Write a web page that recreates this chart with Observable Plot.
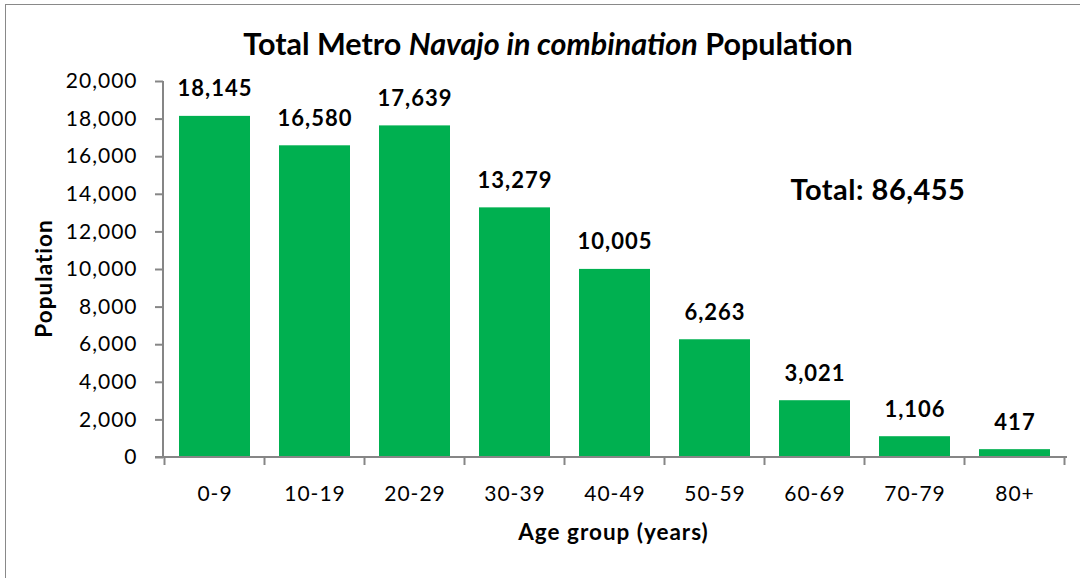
<!DOCTYPE html>
<html>
<head>
<meta charset="utf-8">
<script src="https://cdn.jsdelivr.net/npm/d3@7"></script>
<script src="https://cdn.jsdelivr.net/npm/@observablehq/plot@0.6"></script>
<style>
  html, body { margin: 0; padding: 0; background: #fff; }
  #wrap { position: relative; width: 1089px; height: 578px; overflow: hidden; font-family: Lato, "Open Sans", sans-serif; }
  #frame { position: absolute; left: 5px; top: 4px; width: 1075px; height: 620px; border-left: 1.5px solid #898989; border-top: 1.5px solid #898989; box-sizing: border-box; }
  #title { position: absolute; left: 548px; top: 24.5px; transform: translateX(-50%); white-space: nowrap; font-size: 30.5px; font-weight: bold; line-height: 1.2; color: #000; }
  #total { position: absolute; left: 878px; top: 172px; transform: translateX(-50%); white-space: nowrap; font-size: 29px; font-weight: bold; line-height: 1.2; color: #000; letter-spacing: 0.5px; }
  #chart { position: absolute; left: 0; top: 0; }
</style>
</head>
<body>
<div id="wrap">
  <div id="chart"></div>
  <div id="frame"></div>
  <div id="title"></div>
  <div id="total"></div>
</div>
<script>
// ---- data ----
const ages = ["0-9", "10-19", "20-29", "30-39", "40-49", "50-59", "60-69", "70-79", "80+"];
const population = [18145, 16580, 17639, 13279, 10005, 6263, 3021, 1106, 417];
const yTicks = [0, 2000, 4000, 6000, 8000, 10000, 12000, 14000, 16000, 18000, 20000];
const titleParts = [
  {text: "Total Metro ", italic: false},
  {text: "Navajo in combination", italic: true},
  {text: " Population", italic: false}
];
const totalLabel = "Total: 86,455";
const xLabel = "Age group (years)";
const yLabel = "Population";

// ---- styles ----
const green = "#00B050";
const axisColor = "#868686";
const fmt = d3.format(",");

const data = ages.map((age, i) => ({age, pop: population[i]}));

// axis lines plus tick marks on the category boundaries (Excel style)
function axisLinesAndBoundaryTicks(index, scales, values, dims) {
  const x = scales.x;
  const bw = typeof x.bandwidth === "function" ? x.bandwidth() : x.bandwidth;
  const step = x(ages[1]) - x(ages[0]);
  const gap = (step - bw) / 2;
  const y0 = dims.height - dims.marginBottom;
  const xL = dims.marginLeft;
  const xR = dims.width - dims.marginRight;
  const yT = dims.marginTop;
  const bounds = ages.map(a => x(a) - gap).concat([x(ages[ages.length - 1]) + bw + gap]);
  const g = d3.create("svg:g").attr("stroke", axisColor).attr("stroke-width", 2).attr("fill", "none");
  g.append("line").attr("x1", xL).attr("x2", xL).attr("y1", yT).attr("y2", y0);
  g.append("line").attr("x1", xL - 8).attr("x2", xR).attr("y1", y0).attr("y2", y0);
  g.selectAll("line.b").data(bounds).join("line").attr("class", "b")
    .attr("x1", d => d).attr("x2", d => d)
    .attr("y1", y0).attr("y2", y0 + 8);
  return g.node();
}

const chart = Plot.plot({
  width: 1089,
  height: 578,
  marginLeft: 163,
  marginRight: 22,
  marginTop: 81,
  marginBottom: 121,
  style: {fontFamily: "Lato, 'Open Sans', sans-serif", fontSize: "21px", letterSpacing: "1px", color: "#000", background: "transparent"},
  x: {domain: ages, paddingInner: 0.2857, paddingOuter: 0.1429},
  y: {domain: [0, 20000]},
  marks: [
    Plot.barY(data, {x: "age", y: "pop", fill: green}),
    Plot.axisY({ticks: yTicks, tickFormat: fmt, tickSize: 8, tickPadding: 18, stroke: axisColor, strokeWidth: 2, label: null}),
    Plot.axisX({tickSize: 0, tickPadding: 29, label: null}),
    axisLinesAndBoundaryTicks,
    Plot.text(data, {x: "age", y: "pop", text: d => fmt(d.pop), fontWeight: "bold", fontSize: 22, lineAnchor: "bottom", dy: -20}),
    Plot.text([yLabel], {text: d => d, frameAnchor: "left", textAnchor: "middle", rotate: -90, dx: -119, dy: 9, fontWeight: "bold", fontSize: 22.5}),
    Plot.text([xLabel], {text: d => d, frameAnchor: "bottom", textAnchor: "middle", lineAnchor: "top", dy: 67, dx: -2, fontWeight: "bold", fontSize: 22.5})
  ]
});
document.getElementById("chart").appendChild(chart);

const titleEl = document.getElementById("title");
titleParts.forEach(p => {
  const s = document.createElement("span");
  s.textContent = p.text;
  if (p.italic) s.style.fontStyle = "italic";
  titleEl.appendChild(s);
});
document.getElementById("total").textContent = totalLabel;
</script>
</body>
</html>
